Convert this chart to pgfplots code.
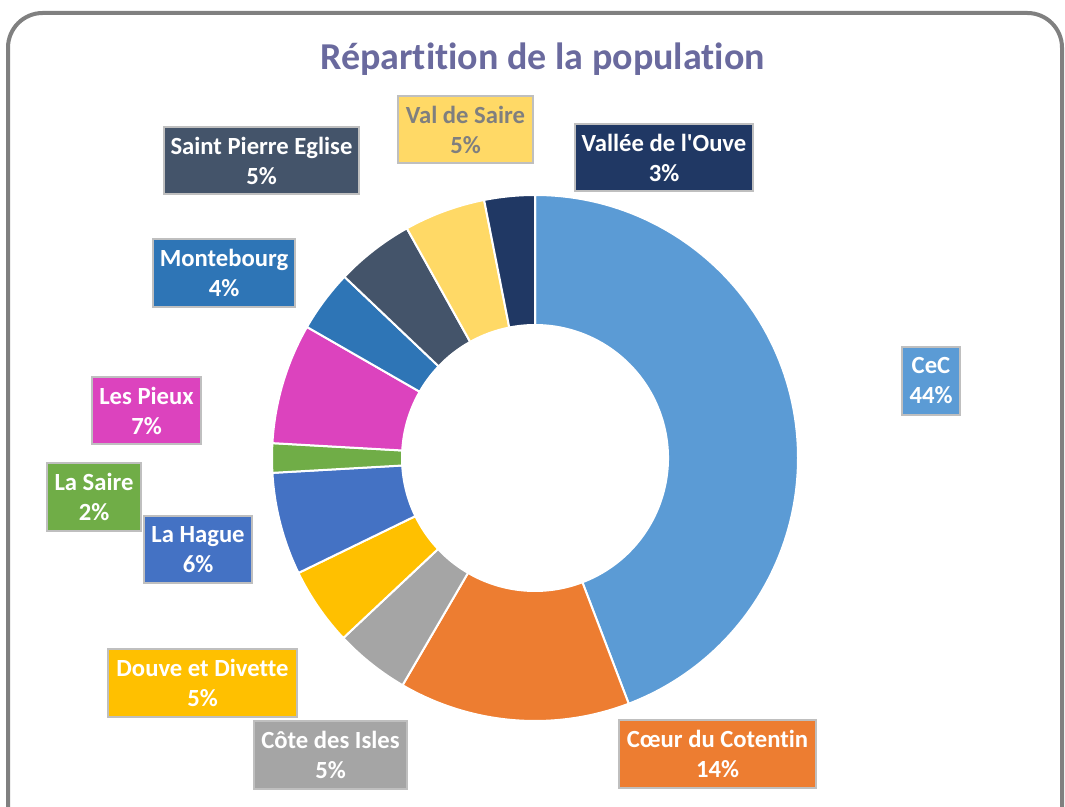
\documentclass[border=0pt]{standalone}
\usepackage{fontspec}
\setmainfont{Carlito}[Ligatures={NoCommon}]
\usepackage{pgfplots}
\usepackage{pgfplotstable}
\pgfplotsset{compat=1.18}

\definecolor{cCeC}{HTML}{5B9BD5}
\definecolor{cCoeur}{HTML}{ED7D31}
\definecolor{cCote}{HTML}{A5A5A5}
\definecolor{cDouve}{HTML}{FFC000}
\definecolor{cHague}{HTML}{4472C4}
\definecolor{cSaire}{HTML}{70AD47}
\definecolor{cPieux}{HTML}{DC43BE}
\definecolor{cMonte}{HTML}{2E75B6}
\definecolor{cSPE}{HTML}{44546A}
\definecolor{cVal}{HTML}{FFD966}
\definecolor{cOuve}{HTML}{203864}
\definecolor{titlecol}{HTML}{6A6A9E}
\definecolor{framecol}{HTML}{808080}
\definecolor{boxline}{HTML}{BFBFBF}
\definecolor{valtxt}{HTML}{7F7F7F}

% value = share of the ring, pct = printed label, px/py/w = label box in pixels
\pgfplotstableread[col sep=comma]{
name,value,pct,col,txt,px,py,w
CeC,44.2,44,cCeC,white,931,381,58
Cœur du Cotentin,14.2,14,cCoeur,white,717.5,754,197
Côte des Isles,4.6,5,cCote,white,330.5,755,153
Douve et Divette,4.8,5,cDouve,white,202.5,683,189
La Hague,6.3,6,cHague,white,198,549.5,108
La Saire,1.8,2,cSaire,white,94,497,94
Les Pieux,7.4,7,cPieux,white,146.5,410.5,109
Montebourg,3.8,4,cMonte,white,224,273,142
Saint Pierre Eglise,4.8,5,cSPE,white,261.5,160.5,195
Val de Saire,5.0,5,cVal,valtxt,465.5,129.5,135
Vallée de l\textquotesingle Ouve,3.1,3,cOuve,white,664,157.5,178
}\slices
\pgfplotstablecreatecol[create col/expr accum={\pgfmathaccuma+\thisrow{value}}{0}]{cum}{\slices}

\tikzset{lbl/.style={draw=boxline, line width=1.5pt, align=center,
    minimum height=50.5pt, inner sep=0pt,
    font={\bfseries\fontsize{18.5}{22.5}\selectfont}}}

\begin{document}
\begin{tikzpicture}
\begin{axis}[
    hide axis, scale only axis, clip=false,
    x=0.75pt, y=0.75pt,
    xmin=0, xmax=1065, ymin=0, ymax=807,
]
\coordinate (SW) at (axis cs:0,0);
\coordinate (NE) at (axis cs:1065,807);

% outer frame
\draw[framecol, line width=3pt, rounded corners=26pt]
    (axis cs:8,794) rectangle (axis cs:1062,-40);

\node[anchor=base, text=titlecol, font={\bfseries\fontsize{28.5}{32}\selectfont}]
    at (axis cs:542.5,737) {Répartition de la population};

% ring centre (535,349), radii 263 and 133 px
\pgfplotsinvokeforeach{0,...,10}{
  \pgfplotstablegetelem{#1}{value}\of\slices \let\sval\pgfplotsretval
  \pgfplotstablegetelem{#1}{cum}\of\slices \let\scum\pgfplotsretval
  \pgfplotstablegetelem{#1}{col}\of\slices \let\scol\pgfplotsretval
  \pgfplotstablegetelem{#1}{txt}\of\slices \let\stxt\pgfplotsretval
  \pgfplotstablegetelem{#1}{name}\of\slices \let\sname\pgfplotsretval
  \pgfplotstablegetelem{#1}{pct}\of\slices \let\spct\pgfplotsretval
  \pgfplotstablegetelem{#1}{px}\of\slices \let\spx\pgfplotsretval
  \pgfplotstablegetelem{#1}{py}\of\slices \let\spy\pgfplotsretval
  \pgfplotstablegetelem{#1}{w}\of\slices \let\sw\pgfplotsretval
  \pgfmathsetmacro\aS{90-3.6*(\scum-\sval)}
  \pgfmathsetmacro\aE{90-3.6*\scum}
  \edef\doslice{\noexpand\fill[\scol, draw=white, line width=1.5pt, line join=round]
     (axis cs:{535+263*cos(\aS)},{349+263*sin(\aS)})
     arc[start angle=\aS, end angle=\aE, radius=197.25pt]
     -- (axis cs:{535+133*cos(\aE)},{349+133*sin(\aE)})
     arc[start angle=\aE, end angle=\aS, radius=99.75pt] -- cycle;}
  \doslice
  \edef\dolabel{\noexpand\node[lbl, fill=\scol, text=\stxt, minimum width=\sw*0.75pt]
     at (axis cs:\spx,{807-\spy}) {\sname\noexpand\\\spct\noexpand\%};}
  \dolabel
}
\end{axis}
\pgfresetboundingbox
\path[use as bounding box] (SW) rectangle (NE);
\end{tikzpicture}
\end{document}
